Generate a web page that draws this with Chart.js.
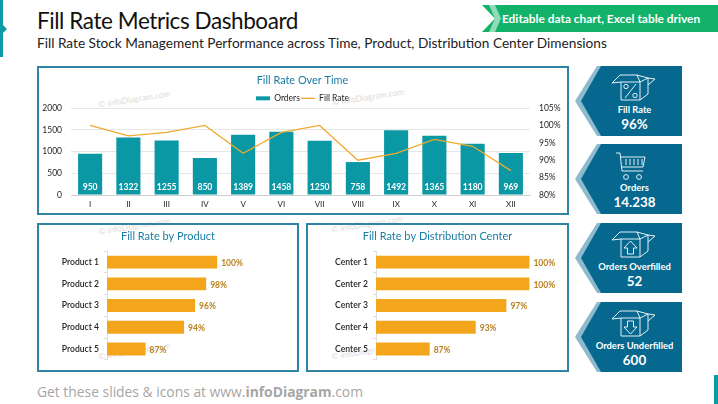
<!DOCTYPE html>
<html>
<head>
<meta charset="utf-8">
<title>Fill Rate Metrics Dashboard</title>
<script src="https://cdn.jsdelivr.net/npm/chart.js@4"></script>
<style>
  html, body { margin: 0; padding: 0; background: #fff; }
  #page { position: relative; width: 718px; height: 404px; overflow: hidden; font-family: Lato, sans-serif; }
  #page > * { position: absolute; }
  .panel { border: 2px solid #2f84a6; box-sizing: border-box; }
  .mark { color: #dcdcdc; font-size: 8.5px; transform: rotate(-9deg); white-space: nowrap; }
  .side { left: 575px; width: 107px; }
  .sideText { width: 107px; left: 6px; text-align: center; color: #fff; position: absolute; white-space: nowrap; }
  .sideLabel { font-size: 9.4px; font-weight: 700; }
  .sideValue { font-size: 13.4px; font-weight: 700; }
</style>
</head>
<body>
<div id="page">
  <svg style="left:0;top:0" width="12" height="60"><polygon points="0,0 3,0 3,25 7,29 3,33 3,57 0,57" fill="#0b9aa8"/></svg>
  <svg style="left:714px;top:375px" width="4" height="29"><rect width="4" height="29" fill="#0b9aa8"/></svg>

  <div style="left:37px;top:7px;font-size:22.5px;letter-spacing:-0.43px;color:#111;white-space:nowrap">Fill Rate Metrics Dashboard</div>
  <div style="left:37px;top:35px;font-size:13.65px;color:#222;white-space:nowrap">Fill Rate Stock Management Performance across Time, Product, Distribution Center Dimensions</div>

  <svg style="left:480px;top:4px" width="238" height="30">
    <polygon points="2,1 238,1 238,28 2,28 15,14.5" fill="#12b26a"/>
    <polygon points="9,1 15,1 21,14.5 15,28 9,28 15,14.5" fill="#8fdcb6"/>
  </svg>
  <div style="left:502px;top:11px;font-size:11.9px;font-weight:700;color:#fff;white-space:nowrap">Editable data chart, Excel table driven</div>

  <div class="mark" style="left:98px;top:94px">© infoDiagram.com</div>
  <div class="mark" style="left:332px;top:92px">© infoDiagram.com</div>
  <div class="mark" style="left:98px;top:221px">© infoDiagram.com</div>
  <div class="mark" style="left:331px;top:219px">© infoDiagram.com</div>
  <div class="mark" style="left:98px;top:346px">© infoDiagram.com</div>
  <div class="mark" style="left:331px;top:346px">© infoDiagram.com</div>

  <div class="panel" style="left:37px;top:66px;width:532px;height:149px"></div>
  <div class="panel" style="left:37px;top:223px;width:262px;height:149px"></div>
  <div class="panel" style="left:306px;top:223px;width:263px;height:149px"></div>

  <canvas id="timeChart" width="527" height="144" style="left:39px;top:68px;width:527px;height:144px"></canvas>
  <canvas id="productChart" width="258" height="145" style="left:39px;top:225px;width:258px;height:145px"></canvas>
  <canvas id="centerChart" width="259" height="145" style="left:308px;top:225px;width:259px;height:145px"></canvas>

  <div id="sides"></div>

  <div style="left:37px;top:382px;font-size:13.85px;color:#a6a6a6;white-space:nowrap;font-family:'Open Sans',sans-serif">Get these slides &amp; icons at www.<b>infoDiagram</b>.com</div>
</div>

<script>
// Chart data
const months = ['I', 'II', 'III', 'IV', 'V', 'VI', 'VII', 'VIII', 'IX', 'X', 'XI', 'XII'];
const orders = [950, 1322, 1255, 850, 1389, 1458, 1250, 758, 1492, 1365, 1180, 969];
const fillRate = [100, 97, 98, 100, 92, 98, 100, 90, 92, 96, 94, 87];

const products = ['Product 1', 'Product 2', 'Product 3', 'Product 4', 'Product 5'];
const productRate = [100, 98, 96, 94, 87];

const centers = ['Center 1', 'Center 2', 'Center 3', 'Center 4', 'Center 5'];
const centerRate = [100, 100, 97, 93, 87];

// Side tiles
const sideLabels = ['Fill Rate', 'Orders', 'Orders Overfilled', 'Orders Underfilled'];
const sideValues = ['96%', '14.238', '52', '600'];
const sideTops = [66, 144, 223, 302];

const TEAL = '#0a98a5';
const ORANGE = '#f3a51c';
const TITLE = '#1b7ba3';
const INK = '#262626';
Chart.defaults.font.family = 'Lato, sans-serif';
Chart.defaults.animation = false;

// Fix the axis band sizes so the plot areas land where they should
const fixWidth = w => scale => { scale.width = w; };
const fixHeight = h => scale => { scale.height = h; };

// Value labels (no datalabels plugin available)
const orderLabels = {
  id: 'orderLabels',
  afterDatasetsDraw(chart) {
    const ctx = chart.ctx;
    ctx.save();
    ctx.font = '700 8.6px Lato, sans-serif';
    ctx.fillStyle = '#fff';
    ctx.textAlign = 'center';
    ctx.textBaseline = 'middle';
    chart.getDatasetMeta(1).data.forEach((bar, i) => {
      ctx.fillText(orders[i], bar.x, chart.scales.y.bottom - 8);
    });
    ctx.restore();
  }
};
const rateLabels = {
  id: 'rateLabels',
  afterDatasetsDraw(chart) {
    const ctx = chart.ctx;
    ctx.save();
    ctx.font = '700 8.5px Lato, sans-serif';
    ctx.fillStyle = '#b9801f';
    ctx.textBaseline = 'middle';
    chart.getDatasetMeta(0).data.forEach((bar, i) => {
      ctx.fillText(chart.data.datasets[0].data[i] + '%', bar.x + 4, bar.y + 1);
    });
    ctx.restore();
  }
};

new Chart(document.getElementById('timeChart'), {
  type: 'bar',
  data: {
    labels: months,
    datasets: [
      { type: 'line', label: 'Fill Rate', data: fillRate, yAxisID: 'y1', borderColor: '#efaa2e', borderWidth: 1.3, pointRadius: 0, tension: 0, order: 0 },
      { label: 'Orders', data: orders, yAxisID: 'y', backgroundColor: TEAL, categoryPercentage: 1, barPercentage: 0.63, order: 1 }
    ]
  },
  options: {
    responsive: false,
    layout: { padding: 0 },
    plugins: {
      tooltip: { enabled: false },
      title: { display: true, text: 'Fill Rate Over Time', color: TITLE, font: { size: 10.9, weight: 'normal' }, padding: { top: 6, bottom: 6 } },
      legend: {
        display: true,
        maxHeight: 15,
        labels: {
          usePointStyle: true, pointStyleWidth: 14, boxHeight: 4, color: INK, font: { size: 8.5 }, padding: 1,
          generateLabels() {
            return [
              { text: 'Orders', pointStyle: 'rect', fillStyle: TEAL, strokeStyle: TEAL, lineWidth: 0, fontColor: INK, datasetIndex: 1 },
              { text: 'Fill Rate', pointStyle: 'line', fillStyle: '#efaa2e', strokeStyle: '#efaa2e', lineWidth: 1.3, fontColor: INK, datasetIndex: 0 }
            ];
          }
        }
      }
    },
    scales: {
      x: {
        grid: { display: false, drawTicks: false },
        border: { color: '#cfcfcf' },
        ticks: { color: INK, font: { size: 8 }, padding: 5, maxRotation: 0, autoSkip: false },
        afterFit: fixHeight(17)
      },
      y: {
        position: 'left', min: 0, max: 2000,
        grid: { color: '#e6e6e6', drawTicks: false },
        border: { display: false },
        ticks: { stepSize: 500, color: INK, font: { size: 8.5 }, padding: 9, callback: v => String(v) },
        afterFit: fixWidth(32)
      },
      y1: {
        position: 'right', min: 80, max: 105,
        grid: { display: false, drawTicks: false },
        border: { display: false },
        ticks: { stepSize: 5, color: INK, font: { size: 8.5 }, padding: 9, callback: v => v + '%' },
        afterFit: fixWidth(36)
      }
    }
  },
  plugins: [orderLabels]
});

// Both lower charts are the same horizontal bar, only labels, data and axis end differ
function rateChart(id, title, labels, values, axisMax) {
  new Chart(document.getElementById(id), {
    type: 'bar',
    data: { labels, datasets: [{ data: values, backgroundColor: ORANGE, categoryPercentage: 1, barPercentage: 0.59 }] },
    options: {
      indexAxis: 'y',
      responsive: false,
      layout: { padding: { bottom: 7 } },
      plugins: {
        tooltip: { enabled: false },
        legend: { display: false },
        title: { display: true, text: title, color: TITLE, font: { size: 11, weight: 'normal' }, padding: { top: 5, bottom: 8 } }
      },
      scales: {
        x: { display: false, min: 80, max: axisMax },
        y: {
          grid: { display: true, drawOnChartArea: false, color: '#dedede', tickLength: 3, offset: true },
          border: { color: '#dedede' },
          ticks: { color: INK, font: { size: 8.6, weight: 600 }, padding: 5 },
          afterFit: fixWidth(68)
        }
      }
    },
    plugins: [rateLabels]
  });
}
rateChart('productChart', 'Fill Rate by Product', products, productRate, 114.5);
rateChart('centerChart', 'Fill Rate by Distribution Center', centers, centerRate, 104.9);

// Side tile icons
const boxIcon = inner => `<svg style="position:absolute;left:36px;top:7px" width="46" height="28" viewBox="0 0 46 28" fill="none" stroke="#fff" stroke-width="0.9">
  <path d="M10 9H29V27H10ZM29 9L37 5V21L29 27M10 9L1 10L9 2H26L29 9M26 2L37 5L44 6L37 12"/>${inner}</svg>`;
const sideIcons = [
  boxIcon('<circle cx="15" cy="13.5" r="2.2"/><circle cx="24" cy="22.5" r="2.2"/><path d="M25 11L14 25"/>'),
  `<svg style="position:absolute;left:40px;top:8px" width="32" height="29" viewBox="0 0 32 29" fill="none" stroke="#fff" stroke-width="0.9">
    <path d="M1 1H5L7 19H28M6 5H30L28 15H7"/><path d="M11 7V13M15 7V13M19 7V13M23 7V13M27 7V13"/><circle cx="11" cy="25" r="2.4"/><circle cx="24" cy="25" r="2.4"/></svg>`,
  boxIcon('<path d="M19.5 11L26 18H22.5V24H16.5V18H13Z"/>'),
  boxIcon('<path d="M19.5 25L26 18H22.5V12H16.5V18H13Z"/>')
];
document.getElementById('sides').innerHTML = sideTops.map((top, i) => `
  <div class="side" style="position:absolute;top:${top}px;height:70px">
    <svg style="position:absolute;left:0;top:0" width="107" height="70">
      <polygon points="0,35 22,0 107,0 107,70 22,70" fill="#8ebacd"/>
      <polygon points="6,35 26,0 107,0 107,70 26,70" fill="#06688f"/>
    </svg>
    ${sideIcons[i]}
    <div class="sideText sideLabel" style="top:38px">${sideLabels[i]}</div>
    <div class="sideText sideValue" style="top:50px">${sideValues[i]}</div>
  </div>`).join('');
</script>
</body>
</html>
